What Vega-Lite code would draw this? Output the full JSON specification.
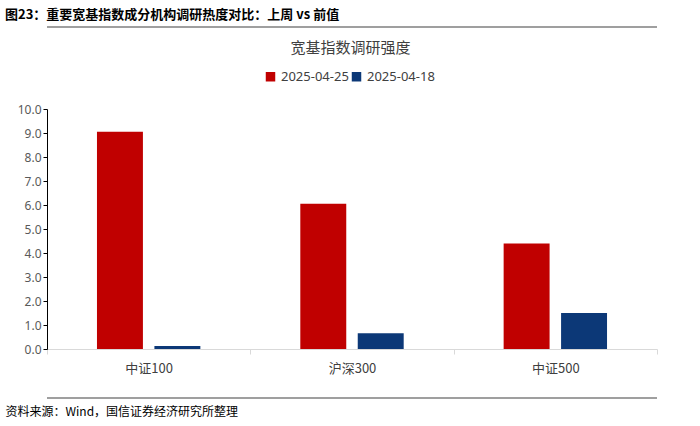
{
  "$schema": "https://vega.github.io/schema/vega-lite/v6.json",
  "width": 610,
  "height": 240,
  "autosize": {"type": "none"},
  "padding": {"left": 47, "top": 109, "right": 43, "bottom": 77},
  "background": "white",
  "config": {"view": {"stroke": null}, "font": "Noto Sans CJK SC"},
  "title": {
    "text": "图23：重要宽基指数成分机构调研热度对比：上周 vs 前值",
    "anchor": "start",
    "frame": "group",
    "dx": -42,
    "fontSize": 13,
    "fontWeight": "bold",
    "color": "#000000",
    "font": "Noto Sans CJK SC"
  },
  "data": {
    "values": [
      {"index": "中证100", "date": "2025-04-25", "value": 9.05},
      {"index": "中证100", "date": "2025-04-18", "value": 0.12},
      {"index": "沪深300", "date": "2025-04-25", "value": 6.05},
      {"index": "沪深300", "date": "2025-04-18", "value": 0.66},
      {"index": "中证500", "date": "2025-04-25", "value": 4.4},
      {"index": "中证500", "date": "2025-04-18", "value": 1.5}
    ]
  },
  "resolve": {"axis": {"y": "independent"}},
  "layer": [
    {
      "mark": {"type": "bar"},
      "encoding": {
        "x": {
          "field": "index",
          "type": "nominal",
          "sort": ["中证100", "沪深300", "中证500"],
          "scale": {"paddingInner": 0, "paddingOuter": 0},
          "axis": {
            "title": "资料来源：Wind，国信证券经济研究所整理",
            "titleX": -42,
            "titleY": 62,
            "titleAlign": "left",
            "titleBaseline": "middle",
            "titleFontSize": 12,
            "titleFontWeight": "normal",
            "titleColor": "#000000",
            "labelAngle": 0,
            "labelFontSize": 13,
            "labelColor": "#404040",
            "labelPadding": 8,
            "domainColor": "#d9d9d9",
            "tickColor": "#d9d9d9",
            "tickBand": "extent",
            "tickSize": 5
          }
        },
        "xOffset": {
          "field": "date",
          "type": "nominal",
          "sort": ["2025-04-25", "2025-04-18"],
          "scale": {"paddingInner": 0.2, "paddingOuter": 0.87}
        },
        "y": {
          "field": "value",
          "type": "quantitative",
          "scale": {"domain": [0, 10]},
          "axis": {
            "values": [0, 1, 2, 3, 4, 5, 6, 7, 8, 9, 10],
            "format": ".1f",
            "labelOverlap": false,
            "grid": false,
            "domainColor": "#000000",
            "tickColor": "#000000",
            "tickSize": 4,
            "labelFontSize": 12,
            "labelColor": "#595959",
            "labelFont": "Noto Sans",
            "title": "宽基指数调研强度",
            "titleAngle": 0,
            "titleX": 303,
            "titleY": -62,
            "titleAlign": "center",
            "titleBaseline": "middle",
            "titleFontSize": 15,
            "titleFontWeight": "normal",
            "titleColor": "#404040"
          }
        },
        "color": {
          "field": "date",
          "type": "nominal",
          "sort": ["2025-04-25", "2025-04-18"],
          "scale": {"domain": ["2025-04-25", "2025-04-18"], "range": ["#c00000", "#0c3877"]},
          "legend": {
            "title": null,
            "orient": "none",
            "legendX": 217,
            "legendY": -39,
            "direction": "horizontal",
            "symbolType": "square",
            "symbolSize": 90,
            "symbolStrokeWidth": 0,
            "labelFontSize": 13,
            "labelColor": "#404040",
            "labelFont": "Noto Sans",
            "columnPadding": 1
          }
        }
      }
    },
    {
      "data": {"values": [{}]},
      "mark": {"type": "rule", "color": "#7f7f7f", "strokeWidth": 1.5},
      "encoding": {"y": {"datum": 13.42, "type": "quantitative", "scale": {"domain": [0, 10]}, "axis": null}}
    },
    {
      "data": {"values": [{}]},
      "mark": {"type": "rule", "color": "#7f7f7f", "strokeWidth": 1.5},
      "encoding": {"y": {"datum": -2.04, "type": "quantitative", "scale": {"domain": [0, 10]}, "axis": null}}
    }
  ]
}
